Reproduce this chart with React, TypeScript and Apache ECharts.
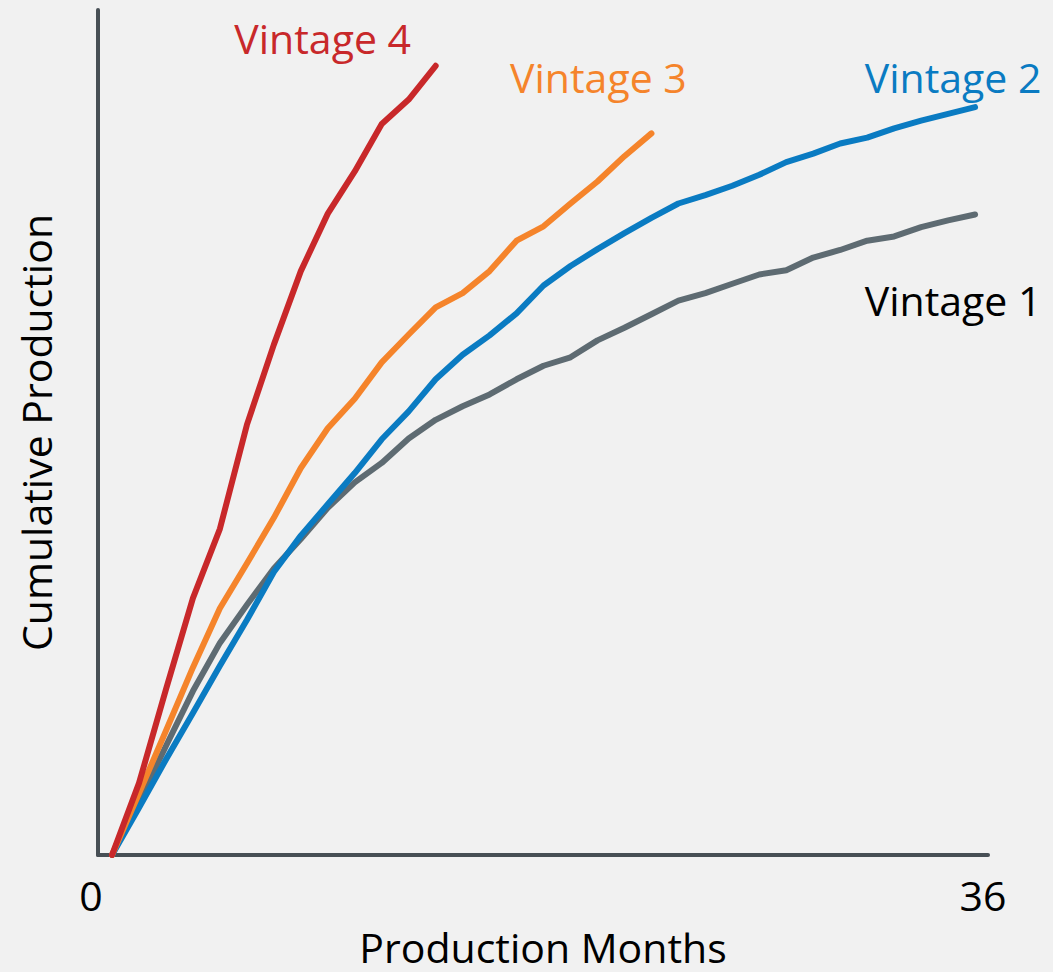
import React, { useEffect, useRef } from 'react';
import * as echarts from 'echarts';

// Data point positions (production month index)
const months = [0, 1, 2, 3, 4, 5, 6, 7, 8, 9, 10, 11, 12, 13, 14, 15, 16, 17, 18, 19, 20, 21, 22, 23, 24, 25, 26, 27, 28, 29, 30, 31, 32];

// Cumulative production (relative units)
const vintage1 = [0, 6.3, 12.9, 19.4, 25.1, 29.6, 33.9, 37.4, 41.1, 44.1, 46.4, 49.3, 51.5, 53.1, 54.5, 56.3, 57.9, 58.9, 60.9, 62.4, 64.0, 65.6, 66.5, 67.6, 68.7, 69.2, 70.7, 71.6, 72.7, 73.2, 74.3, 75.1, 75.8];
const vintage2 = [0, 5.6, 11.3, 16.8, 22.4, 27.8, 33.5, 37.8, 41.5, 45.2, 49.2, 52.5, 56.3, 59.2, 61.5, 64.1, 67.4, 69.7, 71.7, 73.6, 75.4, 77.1, 78.1, 79.2, 80.5, 82.0, 83.0, 84.2, 84.9, 86.0, 86.9, 87.7, 88.5];
const vintage3 = [0, 7.3, 14.7, 22.2, 29.2, 34.5, 39.9, 45.8, 50.5, 54.0, 58.3, 61.6, 64.8, 66.5, 69.1, 72.7, 74.4, 77.1, 79.7, 82.7, 85.4];
const vintage4 = [0, 8.5, 19.6, 30.4, 38.6, 50.9, 60.4, 69.1, 75.9, 80.9, 86.5, 89.4, 93.4];

const seriesNames = ['Vintage 1', 'Vintage 2', 'Vintage 3', 'Vintage 4'];
const xTickPositions = [-0.52, 32];
const xTickLabels = ['0', '36'];
const xAxisName = 'Production Months';
const yAxisName = 'Cumulative Production';

const FONT = '"Open Sans", "Noto Sans", sans-serif';

export default function App() {
  const ref = useRef<HTMLDivElement>(null);

  useEffect(() => {
    if (!ref.current) return;
    const chart = echarts.init(ref.current, undefined, { renderer: 'svg' });

    const toPairs = (vals: number[]) => vals.map((v, i) => [months[i], v]);

    const mk = (
      name: string,
      vals: number[],
      color: string,
      labelColor: string,
      offset: [number, number]
    ) => ({
      name,
      type: 'line',
      data: toPairs(vals),
      showSymbol: false,
      symbol: 'none',
      lineStyle: { color, width: 6, cap: 'round', join: 'round' },
      itemStyle: { color },
      endLabel: {
        show: true,
        formatter: '{a}',
        color: labelColor,
        fontFamily: FONT,
        fontSize: 41,
        align: 'center',
        verticalAlign: 'middle',
        distance: 0,
        offset,
      },
      emphasis: { disabled: true },
    });

    chart.setOption({
      animation: false,
      backgroundColor: '#f1f1f1',
      textStyle: { fontFamily: FONT },
      grid: { left: 98, right: 65, top: 10, bottom: 110, containLabel: false },
      xAxis: {
        type: 'value',
        min: -0.52,
        max: 32.48,
        name: xAxisName,
        nameLocation: 'middle',
        nameGap: 71,
        nameTextStyle: { fontSize: 41, color: '#000', fontFamily: FONT },
        axisLine: { show: true, onZero: false, lineStyle: { color: '#474f55', width: 4 } },
        axisTick: { show: false },
        splitLine: { show: false },
        axisLabel: {
          show: true,
          customValues: xTickPositions,
          margin: 19,
          fontSize: 41,
          color: '#000',
          fontFamily: FONT,
          formatter: (v: number) => {
            const idx = xTickPositions.findIndex((p) => Math.abs(p - v) < 1e-6);
            if (idx < 0) return '';
            return idx === 0 ? '{a|' + xTickLabels[idx] + '}' : '{b|' + xTickLabels[idx] + '}';
          },
          rich: {
            a: { fontSize: 41, color: '#000', fontFamily: FONT, padding: [0, 14, 0, 0] },
            b: { fontSize: 41, color: '#000', fontFamily: FONT, padding: [0, 0, 0, 16] },
          },
        },
      },
      yAxis: {
        type: 'value',
        min: 0,
        max: 100,
        name: yAxisName,
        nameLocation: 'middle',
        nameGap: 42,
        nameRotate: 90,
        nameTextStyle: { fontSize: 41, color: '#000', fontFamily: FONT },
        axisLine: { show: true, onZero: false, lineStyle: { color: '#474f55', width: 4 } },
        axisTick: { show: false },
        axisLabel: { show: false },
        splitLine: { show: false },
      },
      series: [
        mk(seriesNames[0], vintage1, '#5e6b72', '#000000', [-22, 86]),
        mk(seriesNames[1], vintage2, '#0a7bc2', '#0a7bc2', [-22, -30]),
        mk(seriesNames[2], vintage3, '#f5842b', '#f5842b', [-53, -56]),
        mk(seriesNames[3], vintage4, '#c8282a', '#c8282a', [-113, -28]),
      ],
    });

    return () => chart.dispose();
  }, []);

  return (
    <div
      ref={ref}
      style={{ position: 'absolute', left: 0, top: 0, width: 1053, height: 972, background: '#f1f1f1' }}
    />
  );
}
